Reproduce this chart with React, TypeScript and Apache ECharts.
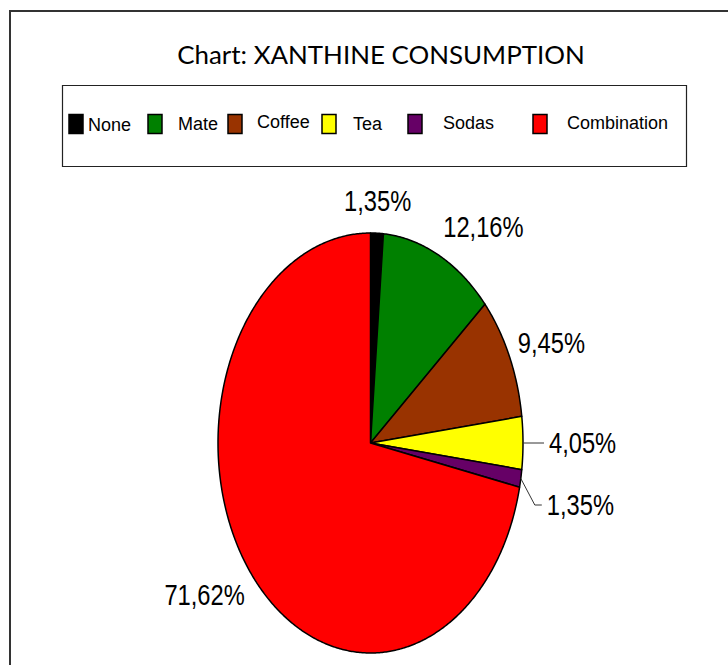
import React, { useEffect, useRef } from "react";
import * as echarts from "echarts";

// ---- data ----
const categories = ["None", "Mate", "Coffee", "Tea", "Sodas", "Combination"];
const counts = [1, 9, 7, 3, 1, 53];
const colors = ["#000000", "#008000", "#993300", "#FFFF00", "#660066", "#FF0000"];
const chartTitle = "Chart: XANTHINE CONSUMPTION";

// ---- layout ----
const W = 728;
const H = 665;
const CX = 370.5;
const CY = 443;
const RX = 152.5;
const RY = 210;
const LEGEND_SWATCH_X = [69, 148, 228, 322, 408, 533];
const LEGEND_TEXT_X = [88, 178, 257, 353, 443, 567];
const LEGEND_TEXT_Y = [125, 124, 122, 124, 123, 123];
const LABEL_FONT = '30px "Liberation Sans", Arial, sans-serif';
const LABEL_SCALE_X = 0.79;
const DIGIT_H = 22;

function fmtPct(v: number, total: number) {
  // truncated to two decimals, decimal comma
  const p = Math.floor((v / total) * 10000 + 1e-6) / 100;
  return p.toFixed(2).replace(".", ",") + "%";
}

function measure(text: string, font: string) {
  const ctx = document.createElement("canvas").getContext("2d");
  if (!ctx) return text.length * 14;
  ctx.font = font;
  return ctx.measureText(text).width;
}

type LabelLayout = {
  x: number;
  y: number;
  align: "left" | "right" | "center";
  leader: number[][] | null;
};

function layoutLabels(values: number[]): LabelLayout[] {
  const total = values.reduce((a, b) => a + b, 0);
  let acc = 0;
  let prevRightY = -Infinity;
  return values.map((v) => {
    const mid = ((acc + v / 2) / total) * Math.PI * 2;
    acc += v;
    const s = Math.sin(mid);
    const c = Math.cos(mid);
    const share = v / total;
    if (share < 0.05 && Math.abs(c) < 0.5) {
      const sign = s >= 0 ? 1 : -1;
      const p0 = [CX + RX * s, CY - RY * c];
      const y = Math.max(p0[1], prevRightY + 62);
      prevRightY = y;
      return {
        x: p0[0] + 26 * sign,
        y,
        align: sign > 0 ? "left" : "right",
        leader: [p0, [p0[0] + 14 * sign, y], [p0[0] + 21 * sign, y]],
      };
    }
    const align = s > 0.3 ? "left" : s < -0.3 ? "right" : "center";
    const ax = CX + (align === "center" ? 1.1 : 1.06) * RX * s;
    const ay = CY - 1.1 * RY * c;
    return {
      x: ax,
      y: ay - (DIGIT_H / 2) * c,
      align,
      leader: null,
    };
  });
}

export default function App() {
  const ref = useRef<HTMLDivElement>(null);

  useEffect(() => {
    document.body.style.margin = "0";
    if (!ref.current) return;
    const chart = echarts.init(ref.current, null, { renderer: "svg" });

    const total = counts.reduce((a, b) => a + b, 0);
    const starts: number[] = [];
    let acc = 0;
    counts.forEach((v) => {
      starts.push(acc);
      acc += v;
    });
    const labels = layoutLabels(counts);

    const titleFont = '25px Lato, "Open Sans", sans-serif';
    const titleScale = 408 / measure(chartTitle, titleFont);

    const legendGraphics: any[] = [];
    categories.forEach((name, i) => {
      legendGraphics.push({
        type: "rect",
        shape: { x: LEGEND_SWATCH_X[i], y: 114.5, width: 14, height: 19 },
        style: { fill: colors[i], stroke: "#000", lineWidth: 1.5 },
        silent: true,
      });
      legendGraphics.push({
        type: "text",
        x: LEGEND_TEXT_X[i],
        y: LEGEND_TEXT_Y[i],
        style: {
          text: name,
          font: '18px "Liberation Sans", Arial, sans-serif',
          fill: "#000",
          align: "left",
          verticalAlign: "middle",
        },
        silent: true,
      });
    });

    chart.setOption({
      animation: false,
      backgroundColor: "#fff",
      graphic: [
        {
          type: "rect",
          shape: { x: 10, y: 11, width: 800, height: 800 },
          style: { fill: "none", stroke: "#333", lineWidth: 2 },
          silent: true,
        },
        {
          type: "rect",
          shape: { x: 62.5, y: 85.5, width: 624, height: 81 },
          style: { fill: "none", stroke: "#222", lineWidth: 1.2 },
          silent: true,
        },
        {
          type: "text",
          x: 381,
          y: 54,
          scaleX: titleScale,
          style: {
            text: chartTitle,
            font: titleFont,
            fill: "#000",
            align: "center",
            verticalAlign: "middle",
          },
          silent: true,
        },
        ...legendGraphics,
      ],
      series: [
        {
          type: "custom",
          coordinateSystem: "none",
          silent: true,
          data: counts.map((v, i) => ({
            value: v,
            name: categories[i],
            itemStyle: { color: colors[i] },
          })),
          renderItem: (params: any, api: any) => {
            const i = params.dataIndex;
            const v = api.value(0);
            const a0 = (starts[i] / total) * Math.PI * 2;
            const a1 = ((starts[i] + v) / total) * Math.PI * 2;
            const steps = Math.max(2, Math.ceil((a1 - a0) / (Math.PI / 360)));
            const pts: number[][] = [[CX, CY]];
            for (let k = 0; k <= steps; k++) {
              const t = a0 + ((a1 - a0) * k) / steps;
              pts.push([CX + RX * Math.sin(t), CY - RY * Math.cos(t)]);
            }
            const lab = labels[i];
            const children: any[] = [
              {
                type: "polygon",
                shape: { points: pts },
                style: {
                  fill: api.visual("color"),
                  stroke: "#000",
                  lineWidth: 1.5,
                  lineJoin: "round",
                },
              },
              {
                type: "text",
                x: lab.x,
                y: lab.y,
                scaleX: LABEL_SCALE_X,
                style: {
                  text: fmtPct(v, total),
                  font: LABEL_FONT,
                  fill: "#000",
                  align: lab.align,
                  verticalAlign: "middle",
                },
              },
            ];
            if (lab.leader) {
              children.push({
                type: "polyline",
                shape: { points: lab.leader },
                style: { stroke: "#333", lineWidth: 1, fill: "none" },
              });
            }
            return { type: "group", children };
          },
        },
      ],
    });

    return () => chart.dispose();
  }, []);

  return <div ref={ref} style={{ width: W, height: H, overflow: "hidden" }} />;
}
